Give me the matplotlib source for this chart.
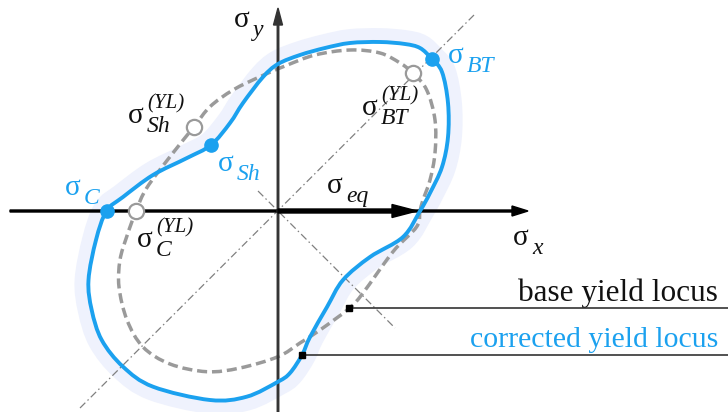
import numpy as np
from matplotlib import pyplot as plt
from matplotlib.path import Path
from matplotlib.patches import PathPatch

# Yield loci in the sigma_x / sigma_y plane (origin at the axis crossing)
base_x = [142, 145, 152, 157, 157, 148.7, 135.3, 122, 102, 72, 37, 7, -18,
          -45, -68, -84, -108, -131.3, -142, -151.3, -158, -159, -151, -135,
          -108, -71.3, -38, 0, 22, 42, 71.3, 85, 115, 138.7]
base_y = [0, 11, 31, 58, 91, 121, 137.7, 148, 158, 161, 156, 145, 134.3,
          121, 104.3, 84.3, 54.3, 23, 0, -25.7, -49, -76, -109, -136,
          -153, -160.7, -157, -145.7, -132, -119, -97.3, -82, -40.7, -15.7]

corr_x = [142, 152, 164, 170, 170, 164, 153.5, 142, 127, 102, 72, 47, 22, 0,
          -15, -35, -48, -67, -91, -125, -155, -171.5, -182, -189.5, -186.3,
          -176.3, -155, -125, -68, -31.3, 0, 12, 24, 32, 49, 65, 92, 125]
corr_y = [0, 18, 44, 74, 108, 139, 152.5, 163, 167, 169, 168, 163, 156, 147,
          134, 108, 88, 66, 53, 36, 14, 0, -29, -69, -99,
          -129, -155.7, -175.7, -189, -185.7, -170.7, -162, -144, -126, -96,
          -69, -46, -26]

# indices of the named stress points on each locus
base_pts = {'C': 18, 'Sh': 15, 'BT': 6}
corr_pts = {'C': 21, 'Sh': 17, 'BT': 6}
base_tag = 30   # where the "base yield locus" leader starts
corr_tag = 32   # where the "corrected yield locus" leader starts

BLUE = '#1ba1ef'
GREY = '#9a9a9a'
HALO = '#eff2fd'
SERIF = 'Liberation Serif'


def closed_spline(xs, ys):
    '''
        Closed Catmull-Rom loop through the given points as a bezier Path
    '''
    p = np.column_stack([xs, ys]).astype(float)
    n = len(p)
    verts = [p[0]]
    codes = [Path.MOVETO]
    for i in range(n):
        p0, p1, p2, p3 = p[i - 1], p[i], p[(i + 1) % n], p[(i + 2) % n]
        verts += [p1 + (p2 - p0) / 6, p2 - (p3 - p1) / 6, p2]
        codes += [Path.CURVE4] * 3
    return Path(verts, codes)


def sigma(ax, x, y, sub, sup=None, color='#111111'):
    '''
        sigma with italic subscript / superscript
    '''
    ax.text(x, y, '\u03c3', fontsize=21, family=SERIF, color=color,
            va='baseline', zorder=9)
    ax.text(x + 19, y - 9, sub, fontsize=17, family=SERIF, style='italic',
            color=color, va='baseline', zorder=9)
    if sup:
        ax.text(x + 19, y + 15, sup, fontsize=15, family=SERIF,
                style='italic', color=color, va='baseline', zorder=9)


fig = plt.figure(figsize=(7.28, 4.12), dpi=100)
ax = fig.add_axes([0, 0, 1, 1])
ax.set_xlim(-278, 450)
ax.set_ylim(-201, 211)
ax.axis('off')

corr_path = closed_spline(corr_x, corr_y)
base_path = closed_spline(base_x, base_y)

# soft band on the outside of the corrected locus
ax.add_patch(PathPatch(corr_path, fc='none', ec=HALO, lw=20, zorder=1))
ax.add_patch(PathPatch(corr_path, fc='white', ec='none', zorder=2))

# principal diagonals
dd = (0, (6, 2.5, 1.2, 2.5))
ax.plot([-198, 196], [-197, 196], color='#808080', lw=0.9, ls=dd, zorder=3)
ax.plot([-20, 117], [20, -117], color='#808080', lw=0.9, ls=dd, zorder=3)

ax.add_patch(PathPatch(base_path, fc='none', ec=GREY, lw=2.5,
                       ls=(0, (2.9, 1.4)), zorder=4))

# axes and the equivalent stress arrow
ax.arrow(-268, 0, 518, 0, width=2, head_width=10, head_length=16,
         length_includes_head=True, color='black', zorder=5)
ax.arrow(0, -201, 0, 404, width=1.5, head_width=9, head_length=17,
         length_includes_head=True, color='#333333', zorder=5)
ax.arrow(0, 0, 139, 0, width=4, head_width=13, head_length=25,
         length_includes_head=True, color='black', zorder=5)

ax.add_patch(PathPatch(corr_path, fc='none', ec=BLUE, lw=2.8, zorder=6))

for k, i in base_pts.items():
    ax.plot(base_x[i], base_y[i], 'o', ms=11, mfc='white', mec=GREY,
            mew=1.6, zorder=7)
for k, i in corr_pts.items():
    ax.plot(corr_x[i], corr_y[i], 'o', ms=9.5, color=BLUE, zorder=7)

# legend leaders
ax.plot([base_x[base_tag], 450], [base_y[base_tag]] * 2, color='#333333',
        lw=1.2, zorder=7)
ax.plot([corr_x[corr_tag], 450], [corr_y[corr_tag]] * 2, color='#333333',
        lw=1.2, zorder=7)
ax.plot(base_x[base_tag], base_y[base_tag], 's', ms=4.5, color='black',
        zorder=8)
ax.plot(corr_x[corr_tag], corr_y[corr_tag], 's', ms=4.5, color='black',
        zorder=8)
ax.text(440, -89.7, 'base yield locus', fontsize=22.5, family=SERIF,
        color='#111111', ha='right', va='baseline')
ax.text(440, -136.3, 'corrected yield locus', fontsize=21.5, family=SERIF,
        color=BLUE, ha='right', va='baseline')

# labels
sigma(ax, -44, 184, 'y')
sigma(ax, 235, -34, 'x')
sigma(ax, 49, 18, 'eq')
sigma(ax, -213, 16, 'C', color=BLUE)
sigma(ax, -60, 40, 'Sh', color=BLUE)
sigma(ax, 170, 148, 'BT', color=BLUE)
sigma(ax, -141, -36, 'C', '(YL)')
sigma(ax, -150, 88, 'Sh', '(YL)')
sigma(ax, 84, 96, 'BT', '(YL)')

fig.savefig('out.png', dpi=100)
